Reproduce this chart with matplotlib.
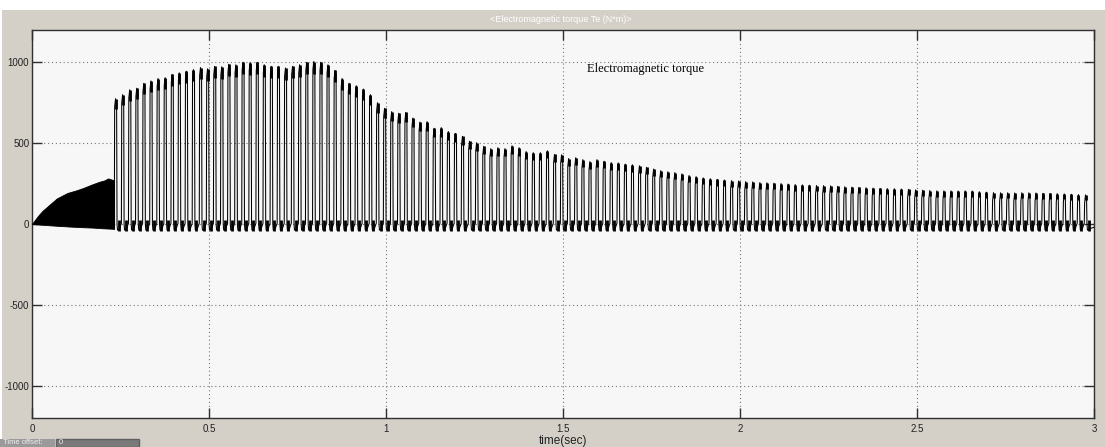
import numpy as np
import matplotlib
matplotlib.use("Agg")
import matplotlib.pyplot as plt
from matplotlib.patches import Rectangle

# Start-up interval: envelope of the densely oscillating torque before the step
startup_time = [0.0, 0.01, 0.02, 0.03, 0.05, 0.07, 0.10, 0.125, 0.145,
                0.17, 0.19, 0.205, 0.215, 0.232]
startup_upper = [0, 30, 58, 82, 120, 158, 192, 208, 223,
                 245, 261, 270, 282, 270]
startup_lower = [0, -2, -3, -5, -8, -11, -15, -18, -20,
                 -22, -25, -27, -28, -30]

# Pulsating torque after the step: one peak per 20 ms cycle (N*m)
pulse_start = 0.237
pulse_period = 0.02
pulse_peaks = [
    775, 800, 830, 840, 870, 885, 900, 905, 925, 935,
    945, 955, 968, 960, 975, 972, 988, 985, 1000, 998,
    1000, 985, 975, 975, 965, 975, 985, 1000, 1005, 1000,
    985, 950, 900, 870, 855, 835, 800, 750, 715, 695,
    685, 690, 655, 630, 633, 592, 596, 572, 560, 542,
    512, 503, 480, 466, 472, 466, 484, 472, 448, 441,
    441, 453, 430, 428, 405, 410, 398, 386, 398, 388,
    380, 378, 370, 366, 360, 350, 340, 330, 323, 318,
    310, 300, 293, 285, 280, 276, 272, 268, 266, 262,
    260, 256, 255, 252, 250, 247, 244, 242, 240, 238,
    237, 236, 233, 230, 228, 226, 224, 222, 220, 219,
    218, 216, 214, 211, 209, 207, 205, 205, 205, 204,
    205, 204, 200, 197, 194, 193, 193, 192, 193, 193,
    192, 190, 189, 188, 186, 184, 182, 180,
]
trough_floor = -42
trough_ceiling = 25

x_ticks = [0, 0.5, 1, 1.5, 2, 2.5, 3]
x_tick_labels = ["0", "0.5", "1", "1.5", "2", "2.5", "3"]
y_ticks = [-1000, -500, 0, 500, 1000]
y_tick_labels = ["-1000", "-500", "0", "500", "1000"]

W, H = 1105, 447
fig = plt.figure(figsize=(W / 100, H / 100), dpi=100, facecolor="white")

# grey scope window frame
fig.patches.append(Rectangle((2 / W, 0), 1 - 2 / W, (H - 10) / H,
                             transform=fig.transFigure, facecolor="#d4d0c8",
                             edgecolor="none", zorder=-10))
fig.text(561 / W, 1 - 20 / H, "<Electromagnetic torque Te (N*m)>",
         color="white", fontsize=6.5, ha="center", va="center",
         family="Liberation Sans")

ax = fig.add_axes([32 / W, 1 - 418 / H, (1094 - 32) / W, (418 - 30) / H])
ax.set_facecolor("#f7f7f7")

# start-up: solid band of fast oscillation
ax.fill_between(startup_time, startup_lower, startup_upper,
                color="black", linewidth=0.6, zorder=3)

# build the pulse train one cycle at a time
t_pts, v_pts = [startup_time[-1]], [startup_lower[-1]]
top_x, top_lo, top_hi = [], [], []
bot_x = []
for k, p in enumerate(pulse_peaks):
    tp = pulse_start + k * pulse_period
    t_pts += [tp - 0.0045, tp - 0.0035, tp - 0.0010, tp + 0.0020,
              tp + 0.0032, tp + 0.0045, tp + 0.0100]
    v_pts += [5, p - 50, p, p - 25, 0, -38, -30]
    top_x.append(tp - 0.0008)
    top_hi.append(p)
    top_lo.append(p - (0.05 * p + 25))
    bot_x.append(tp + 0.0075)
t_pts.append(3.0)
v_pts.append(-20)

ax.plot(t_pts, v_pts, color="black", linewidth=0.75, zorder=3)
ax.vlines(top_x, top_lo, top_hi, color="black", linewidth=2.0, zorder=3)
ax.vlines(bot_x, trough_floor, trough_ceiling, color="black", linewidth=2.0,
          zorder=3)

ax.text(1.568, 957, "Electromagnetic torque", family="Liberation Serif",
        fontsize=9, ha="left", va="center", color="black", zorder=4)

ax.set_xlim(0, 3)
ax.set_ylim(-1200, 1200)
ax.set_xticks(x_ticks)
ax.set_xticklabels(x_tick_labels)
ax.set_yticks(y_ticks)
ax.set_yticklabels(y_tick_labels)
ax.grid(True, color="#777777", linestyle=(0, (1, 2.5)), linewidth=0.8)
ax.tick_params(direction="in", length=7.5, width=1, color="#303030",
               top=True, right=True, labelsize=7, labelcolor="#222222")
ax.tick_params(axis="x", pad=4)
ax.tick_params(axis="y", pad=2)
for lab in ax.get_xticklabels() + ax.get_yticklabels():
    lab.set_family("Liberation Sans")
for s in ax.spines.values():
    s.set_color("#303030")
    s.set_linewidth(1)
ax.set_xlabel("time(sec)", fontsize=8.5, family="Liberation Sans",
              color="#222222", labelpad=1)

# time offset field at the bottom left
fig.patches.append(Rectangle((0, 0), 55 / W, 8 / H, transform=fig.transFigure,
                             facecolor="#9a9a9a", edgecolor="none", zorder=1))
fig.patches.append(Rectangle((56 / W, 0), 83 / W, 8 / H,
                             transform=fig.transFigure, facecolor="#7a7a7a",
                             edgecolor="#606060", zorder=1))
fig.text(3 / W, 4 / H, "Time offset:", color="#eeeeee", fontsize=5.5,
         va="center", ha="left", family="Liberation Sans")
fig.text(59 / W, 4 / H, "0", color="#eeeeee", fontsize=5.5,
         va="center", ha="left", family="Liberation Sans")

fig.savefig("out.png", dpi=100, facecolor=fig.get_facecolor())
